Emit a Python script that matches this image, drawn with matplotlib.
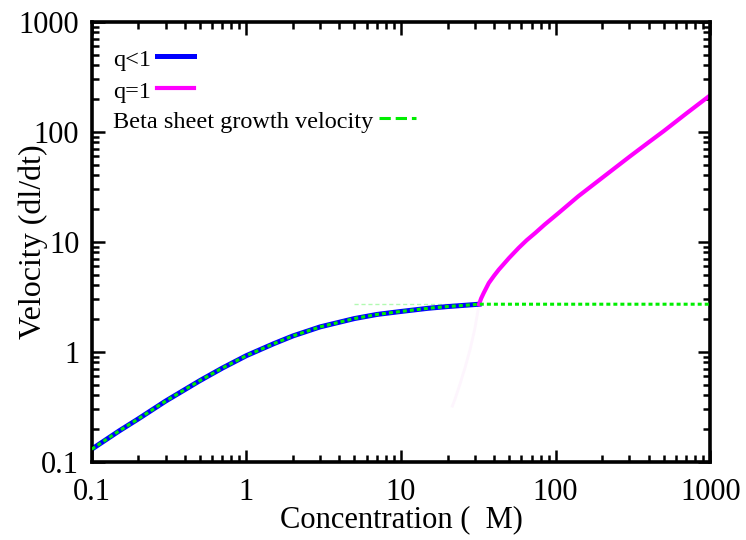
import matplotlib.pyplot as plt
from matplotlib.ticker import LogLocator, NullFormatter, FixedLocator

plt.rcParams["font.family"] = ["Liberation Serif", "DejaVu Serif"]

# q<1 branch: growth velocity below the critical concentration
conc_low = [0.1, 0.15, 0.2, 0.3, 0.5, 0.7, 1, 1.5, 2, 3, 5, 7, 10, 15, 20, 25, 32]
vel_low = [0.13, 0.19, 0.245, 0.355, 0.545, 0.71, 0.92, 1.18, 1.39, 1.68, 2.0,
           2.18, 2.32, 2.48, 2.57, 2.63, 2.7]

# q=1 branch: above the critical concentration
conc_high = [32, 33, 34.3, 37, 40, 42.9, 50, 57.7, 65, 73.9, 85, 104.5, 140,
             200, 300, 400, 500, 700, 1000]
vel_high = [2.7, 3.05, 3.42, 4.21, 4.9, 5.56, 7.1, 8.77, 10.3, 12.0, 14.3, 18.2,
            25.8, 38, 59, 80, 101, 146, 214]

# unstable q<1 continuation, drawn almost white
conc_faint = [32, 30, 28, 26, 24, 22.5, 21.5]
vel_faint = [2.7, 1.6, 1.05, 0.72, 0.5, 0.38, 0.32]

# beta sheet growth velocity: follows q<1, then plateau
conc_beta = conc_low + [1000]
vel_beta = vel_low + [2.7]

labels = ["q<1", "q=1", "Beta sheet growth velocity"]

fig = plt.figure(figsize=(7.46, 5.40), dpi=100)
ax = fig.add_axes([0.123, 0.145, 0.829, 0.815])

ax.plot(conc_faint, vel_faint, color="#fdf5fd", lw=2, zorder=1)
ax.plot([5, 32], [2.7, 2.7], color="#00ee00", lw=1.0, ls=(0, (3, 2)),
        alpha=0.3, zorder=1)

blue, = ax.plot(conc_low, vel_low, color="#0000ff", lw=3.6, zorder=2)
pink, = ax.plot(conc_high, vel_high, color="#ff00ff", lw=3.0, zorder=2)
green, = ax.plot(conc_beta, vel_beta, color="#00ee00", lw=2.2,
                 ls=(0, (1.3, 1.0)), zorder=3)

ax.set_xscale("log")
ax.set_yscale("log")
ax.set_xlim(0.1, 1000)
ax.set_ylim(0.1, 1000)

ticks = [0.1, 1, 10, 100, 1000]
ax.xaxis.set_major_locator(FixedLocator(ticks))
ax.yaxis.set_major_locator(FixedLocator(ticks))
ax.set_xticklabels(["0.1", "1", "10", "100", "1000"])
ax.set_yticklabels(["0.1", "1", "10", "100", "1000"])
for axis in (ax.xaxis, ax.yaxis):
    axis.set_minor_locator(LogLocator(base=10, subs=range(2, 10), numticks=20))
    axis.set_minor_formatter(NullFormatter())

ax.tick_params(which="both", direction="in", top=True, right=True,
               labelsize=22, width=1.8)
ax.tick_params(axis="x", pad=12)
ax.tick_params(axis="y", pad=9)
ax.tick_params(which="major", length=9)
ax.tick_params(which="minor", length=5)
for sp in ax.spines.values():
    sp.set_linewidth(2.6)

ax.set_xlabel("Concentration (  M)", fontsize=22)
ax.set_ylabel("Velocity (dl/dt)", fontsize=23)
ax.xaxis.set_label_coords(0.5, -0.1)
ax.yaxis.set_label_coords(-0.07, 0.5)

# gnuplot-style key: label text followed directly by its line sample
renderer = fig.canvas.get_renderer()
to_axes = ax.transAxes.inverted()
key_y = [0.911, 0.838, 0.77]
for lab, line, y in zip(labels, [blue, pink, green], key_y):
    t = ax.text(0.034, y, lab, transform=ax.transAxes, fontsize=17.5,
                ha="left", va="center")
    bb = t.get_window_extent(renderer)
    x0 = to_axes.transform((bb.x1 + 6, 0))[0]
    x1 = to_axes.transform((bb.x1 + 43, 0))[0]
    ax.plot([x0, x1], [y + 0.01, y + 0.01], transform=ax.transAxes,
            color=line.get_color(), lw=line.get_linewidth(),
            ls=line.get_linestyle(), clip_on=False)

fig.savefig("out.png", dpi=100)
